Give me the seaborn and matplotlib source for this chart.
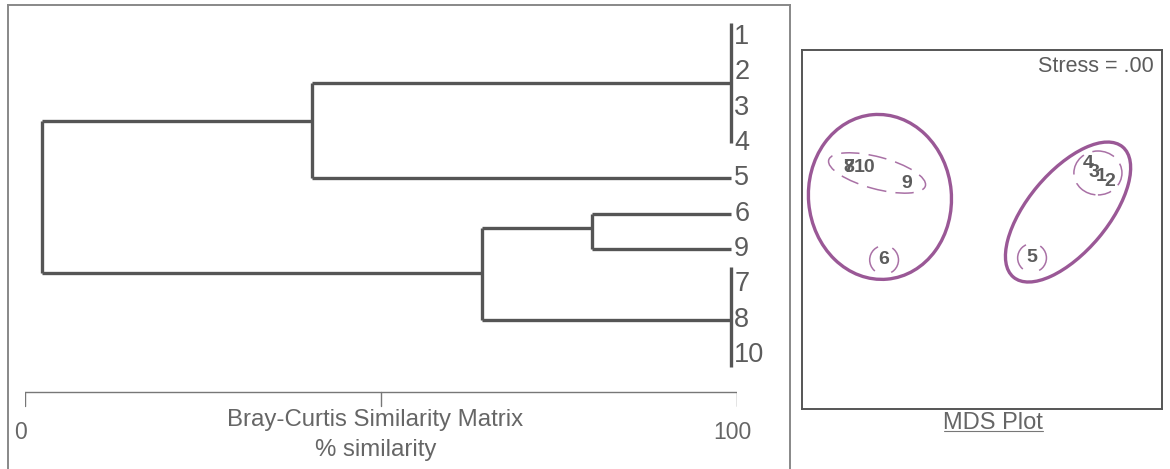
""" Dendrogram (Bray-Curtis) next to an MDS ordination plot. """

import matplotlib

matplotlib.use("Agg")
import matplotlib.pyplot as plt
import pandas as pd
import seaborn as sns
from matplotlib.lines import Line2D
from matplotlib.patches import Ellipse

# dendrogram leaves, listed top to bottom
leaf_labels = ["1", "2", "3", "4", "5", "6", "9", "7", "8", "10"]
leaf_pos = [0, 1, 2, 3, 4, 5, 6, 7, 8, 9]
leaf_sim = 99.2

# internal nodes: similarity level and vertical position
node_names = ["A", "B", "C", "D", "E", "root"]
node_sim = [99.2, 99.2, 79.6, 40.3, 64.2, 2.4]
node_pos = [1.3, 8.0, 5.4, 2.38, 6.69, 4.5]
# merges: (parent, child, child)
links = [("C", "6", "9"), ("D", "A", "5"), ("E", "C", "B"), ("root", "D", "E")]
# identical samples, drawn as one bar: group -> (top, bottom)
tie_groups = {"A": (-0.4, 3.0), "B": (6.5, 9.35)}

scale_ticks = [0, 50, 100]
scale_labels = ["0", "", "100"]

# MDS ordination
mds_labels = ["7", "8", "10", "9", "6", "5", "4", "3", "1", "2"]
mds_x = [-0.744, -0.739, -0.652, -0.417, -0.544, 0.278, 0.589, 0.622, 0.661, 0.711]
mds_y = [0.347, 0.347, 0.347, 0.258, -0.169, -0.158, 0.369, 0.319, 0.297, 0.264]
stress = ".00"

# cluster outlines on the MDS plot: centre, width, height, angle, dash pattern
hull_x = [-0.567, 0.478, -0.583, 0.644, -0.544, 0.278]
hull_y = [0.181, 0.097, 0.314, 0.314, -0.169, -0.158]
hull_w = [0.794, 0.944, 0.556, 0.267, 0.16, 0.16]
hull_h = [0.917, 0.444, 0.178, 0.244, 0.16, 0.16]
hull_angle = [5, 50, -15, 0, 0, 0]
hull_dash = [None, None, (3, (12, 6)), (6, (15, 6)), (23.9, (19, 9.8)), (23.9, (19, 9.8))]

sns.set_style("white")
plt.rcParams["font.family"] = ["Liberation Sans", "DejaVu Sans"]

LINE = "#555555"
TEXT = "#5c5c5c"
PURPLE = "#9a5896"

fig = plt.figure(figsize=(11.7, 4.69), dpi=100)

# frame round the dendrogram panel (bottom edge is off the page)
frame = fig.add_axes([8 / 1170, -0.02, 782 / 1170, 1.02 - 5 / 469])
frame.set_xticks([])
frame.set_yticks([])
frame.patch.set_alpha(0)
for side in ["top", "left", "right"]:
    frame.spines[side].set_color("#888888")
    frame.spines[side].set_linewidth(1.4)
frame.spines["bottom"].set_visible(False)

# dendrogram
pos = dict(zip(leaf_labels, leaf_pos))
sim = {leaf: leaf_sim for leaf in leaf_labels}
pos.update(zip(node_names, node_pos))
sim.update(zip(node_names, node_sim))

rows = []
seg = 0
for parent, a, b in links:
    for child in (a, b):
        rows += [(seg, sim[child], pos[child]), (seg, sim[parent], pos[child])]
        seg += 1
    rows += [(seg, sim[parent], pos[a]), (seg, sim[parent], pos[b])]
    seg += 1
for group, (top, bottom) in tie_groups.items():
    rows += [(seg, sim[group], top), (seg, sim[group], bottom)]
    seg += 1
segments = pd.DataFrame(rows, columns=["seg", "sim", "pos"])

ax = fig.add_axes([25 / 1170, 0, 712 / 1170, 1])
ax.patch.set_alpha(0)
sns.lineplot(
    data=segments, x="sim", y="pos", units="seg", estimator=None, sort=False,
    color=LINE, linewidth=2.4, ax=ax, solid_capstyle="butt",
)
for label, p in zip(leaf_labels, leaf_pos):
    ax.text(leaf_sim + 0.4, p, label, fontsize=19.5, color=TEXT, ha="left", va="center")

# similarity scale
scale_y = 10.05
ax.plot([scale_ticks[0], scale_ticks[-1]], [scale_y, scale_y], color="#777777", lw=1.0)
for t, lab in zip(scale_ticks, scale_labels):
    ax.plot([t, t], [scale_y, scale_y + 0.4], color="#777777", lw=1.0)
    if lab:
        ax.text(t - 0.6, 11.2, lab, fontsize=16.5, color="#666666", ha="center", va="center")
ax.text(49.2, 10.85, "Bray-Curtis Similarity Matrix", fontsize=17.3, color="#666666",
        ha="center", va="center")
ax.text(49.2, 11.68, "% similarity", fontsize=17.3, color="#666666", ha="center", va="center")

ax.set_xlim(0, 100)
ax.set_ylim(12.23, -1.047)
ax.set_xlabel("")
ax.set_ylabel("")
ax.set_xticks([])
ax.set_yticks([])
sns.despine(ax=ax, left=True, bottom=True)

# MDS plot
mds = fig.add_axes([802 / 1170, 60 / 469, 360 / 1170, 359 / 469])
mds.set_xlim(-1, 1)
mds.set_ylim(-0.997, 0.997)
mds.set_xticks([])
mds.set_yticks([])
for side in mds.spines.values():
    side.set_color(LINE)
    side.set_linewidth(1.4)

for x, y, w, h, ang, dash in zip(hull_x, hull_y, hull_w, hull_h, hull_angle, hull_dash):
    mds.add_patch(Ellipse(
        (x, y), w, h, angle=ang, fill=False, edgecolor=PURPLE,
        linewidth=2.4 if dash is None else 1.1, alpha=1.0 if dash is None else 0.85,
        linestyle="-" if dash is None else dash,
    ))

for label, x, y in zip(mds_labels, mds_x, mds_y):
    mds.text(x, y, label, fontsize=14, fontweight="bold", color=TEXT,
             ha="center", va="center")

mds.text(0.978, 0.953, f"Stress = {stress}", transform=mds.transAxes, fontsize=15.5,
         color=TEXT, ha="right", va="center")

fig.text(993 / 1170, 1 - 429 / 469, "MDS Plot", fontsize=17, color="#666666",
         ha="center", va="baseline")
fig.add_artist(Line2D([944 / 1170, 1043 / 1170], [1 - 431 / 469, 1 - 431 / 469],
                      color="#777777", lw=0.8))

fig.savefig("out.png", dpi=100)
